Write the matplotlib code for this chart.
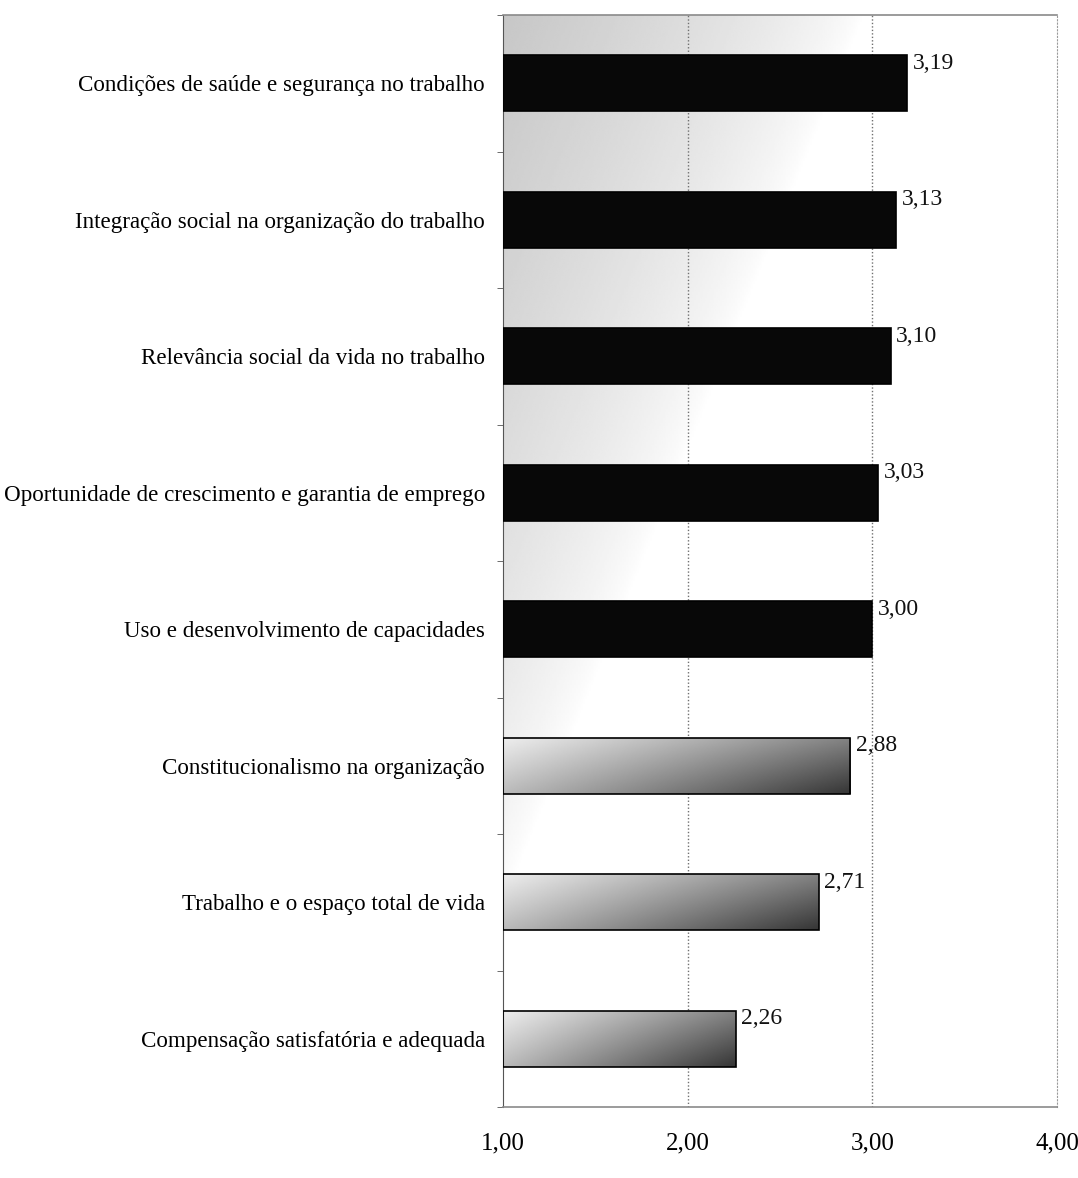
import numpy as np
import matplotlib
matplotlib.use("Agg")
from matplotlib import pyplot as plt
from matplotlib.patches import Rectangle

categorias = [
    "Condições de saúde e segurança no trabalho",
    "Integração social na organização do trabalho",
    "Relevância social da vida no trabalho",
    "Oportunidade de crescimento e garantia de emprego",
    "Uso e desenvolvimento de capacidades",
    "Constitucionalismo na organização",
    "Trabalho e o espaço total de vida",
    "Compensação satisfatória e adequada",
]
medias = [3.19, 3.13, 3.10, 3.03, 3.00, 2.88, 2.71, 2.26]
escuras = [True, True, True, True, True, False, False, False]
ticks_x = [1.0, 2.0, 3.0, 4.0]

plt.rcParams["font.family"] = ["Liberation Serif", "DejaVu Serif"]


def fmt(v):
    return f"{v:.2f}".replace(".", ",")


def main():
    fig = plt.figure(figsize=(10.78, 11.78), dpi=100)
    ax = fig.add_axes([503 / 1078, 1 - 1107 / 1178, 554 / 1078, 1092 / 1178])
    n = len(categorias)
    ax.set_xlim(1, 4)
    ax.set_ylim(n - 0.5, -0.5)

    # fundo cinza claro que some para a direita e para baixo
    gx, gy = np.meshgrid(np.linspace(0, 1, 300), np.linspace(-0.5, n - 0.5, 400))
    inten = np.clip(1 - gx / 0.65 - (gy + 0.5) / 6.5, 0, 1) ** 0.7
    fundo = 1 - 0.22 * inten
    ax.imshow(fundo, cmap="gray", vmin=0, vmax=1, extent=(1, 4, n - 0.5, -0.5),
              aspect="auto", zorder=0, interpolation="bilinear")

    for x in ticks_x[1:3]:
        ax.axvline(x, color="#707070", lw=1.0, ls=(0, (1, 1.5)), zorder=1)

    h = 0.41
    y = np.arange(n)
    bars = ax.barh(y, np.array(medias) - 1, left=1, height=h,
                   color=["#080808" if e else "none" for e in escuras],
                   edgecolor="#000000", linewidth=1.2, zorder=3)

    # barras claras com degradê
    for b, e in zip(bars, escuras):
        if e:
            continue
        x0, y0 = b.get_x(), b.get_y()
        w, hh = b.get_width(), b.get_height()
        s, t = np.meshgrid(np.linspace(0, 1, 200), np.linspace(0, 1, 40))
        g = np.clip(0.93 - 0.42 * s - 0.2 * t - 0.1 * s * t, 0, 1)
        im = ax.imshow(g, cmap="gray", vmin=0, vmax=1,
                       extent=(x0, x0 + w, y0 + hh, y0), aspect="auto",
                       zorder=2, interpolation="bilinear")
        im.set_clip_path(Rectangle((x0, y0), w, hh, transform=ax.transData))

    for yi, v in zip(y, medias):
        ax.text(v + 0.03, yi - h / 2 + 0.06, fmt(v), ha="left", va="center",
                fontsize=17, color="#111111", zorder=4)

    ax.set_yticks(y)
    ax.set_yticklabels(categorias, fontsize=16.6)
    ax.set_yticks(np.arange(n + 1) - 0.5, minor=True)
    ax.tick_params(axis="y", which="major", length=0, pad=13)
    ax.tick_params(axis="y", which="minor", length=4, color="#555555", direction="out")

    ax.set_xticks(ticks_x)
    ax.set_xticklabels([fmt(v) for v in ticks_x], fontsize=18)
    ax.tick_params(axis="x", length=0, pad=18)

    for side in ["top", "bottom"]:
        ax.spines[side].set_color("#8a8a8a")
        ax.spines[side].set_linewidth(1.2)
    ax.spines["left"].set_color("#555555")
    ax.spines["left"].set_linestyle((0, (1, 1)))
    ax.spines["right"].set_color("#9a9a9a")
    ax.spines["right"].set_linestyle((0, (1, 2)))

    fig.savefig("out.png", dpi=100, facecolor="white")


main()
